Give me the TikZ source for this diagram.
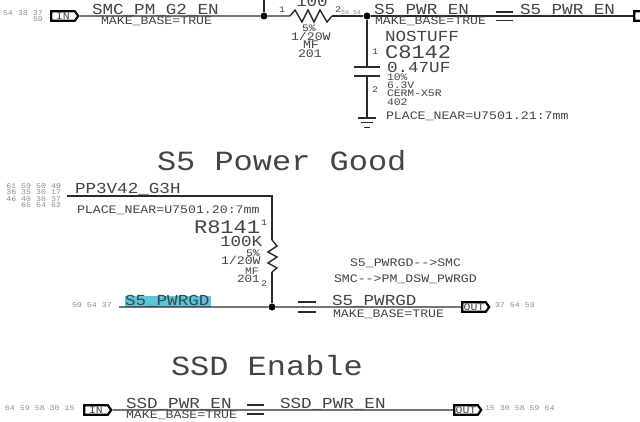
\documentclass[tikz,border=0pt]{standalone}
\usepackage{fontspec}
\usetikzlibrary{shapes.symbols}
\newfontfamily\wf[FakeStretch=1.15]{Liberation Mono}
\newcommand{\fz}[1]{\wf\fontsize{#1}{#1}\selectfont}
\definecolor{ink}{HTML}{444444}
\definecolor{wirec}{HTML}{2A2A2A}
\definecolor{pinc}{HTML}{8C8C8C}
\definecolor{hilite}{HTML}{58C6DC}
\tikzset{
  x=1pt,y=-1pt,
  lab/.style={inner sep=0pt,outer sep=0pt,anchor=base west,text=ink},
  title/.style={lab,font=\fz{27.8}},
  net/.style={lab,font=\fz{15.3}},
  ref/.style={lab,font=\fz{19.2}},
  attr/.style={lab,font=\fz{11.5}},
  tiny/.style={lab,font=\fz{9.9}},
  pinnum/.style={lab,font=\fz{8.6}},
  xref/.style={lab,text=pinc,font=\fz{7.2}},
  wire/.style={draw=wirec,line width=1.4pt},
  dot/.style={circle,fill=black,inner sep=0pt,minimum size=7pt},
  tag/.style={signal,signal to=east,signal pointer angle=110,draw=black,line width=2.2pt,fill=white,
    inner sep=0pt,minimum width=27pt,minimum height=9.5pt,text=ink,font=\fz{10}},
}
\begin{document}
\begin{tikzpicture}
\useasboundingbox[fill=white] (0,0) rectangle (640,422);
% --- coordinates
\coordinate (topv) at (264,0);
\coordinate (r1a) at (290,16);
\coordinate (r1b) at (332,16);
\coordinate (capt) at (367,67);
\coordinate (capb) at (367,76);
\coordinate (gnd) at (367,118);
\coordinate (g3h) at (67,196);
\coordinate (g3corner) at (272,196);
\coordinate (r2a) at (272,240);
\coordinate (r2b) at (272,272);
\coordinate (pgstart) at (119,307);
% --- nodes
\node[tag] (in1) at (63,16) {IN};
\node[tag] (out1) at (646,16) {};
\node[tag] (out2) at (474,307) {OUT};
\node[tag] (in3) at (96,410) {IN};
\node[tag] (out3) at (466,410) {OUT};
\node[dot] (j1) at (264,16) {};
\node[dot] (j2) at (367,16) {};
\node[dot] (j3) at (272,307) {};
% --- highlight
\fill[hilite] (125,296) rectangle (211,306.5);
% --- wires
\draw[wire] (in1) -- (j1) -- (r1a);
\draw[wire] (topv) -- (j1);
\draw[wire] (r1a) -- (295,10) -- (302,22) -- (308,10) -- (314,22) -- (320,10) -- (327,22) -- (r1b);
\draw[wire] (r1b) -- (j2) -- (out1);
\draw[wire] (j2) -- (capt);
\draw[wire] (354,67) -- (380,67);
\draw[wire] (354,76) -- (380,76);
\draw[wire] (capb) -- (gnd);
\draw[wire] (358,118) -- (376,118);
\draw[wire,line width=1pt] (361,123) -- (373,123);
\draw[wire,line width=1pt] (364,127.5) -- (370,127.5);
\draw[wire] (g3h) -- (g3corner) -- (r2a);
\draw[wire] (r2a) -- (277,246) -- (268,252) -- (277,257) -- (268,263) -- (277,268) -- (r2b);
\draw[wire] (r2b) -- (j3);
\draw[wire] (pgstart) -- (j3) -- (out2);
\draw[wire] (in3) -- (out3);
% equals signs
\draw[wire] (496,12) -- (513,12) (496,20.5) -- (513,20.5);
\draw[wire] (298,302) -- (316,302) (298,312) -- (316,312);
\draw[wire] (247,405) -- (264,405) (247,414) -- (264,414);
% --- text: top block
\node[xref] (x1) at (3,16) {54 38 37};
\node[xref] (x2) at (33,22) {59};
\node[net] (t1) at (92,15) {SMC\_PM\_G2\_EN};
\node[attr] (t2) at (101,25) {MAKE\_BASE=TRUE};
\node[net] (t3) at (296,7) {100};
\node[pinnum] (t4) at (279,13) {1};
\node[pinnum] (t5) at (335,13) {2};
\node[xref,font=\fz{5.8}] (t6) at (341,15) {59 54};
\node[tiny] (t7) at (302,32) {5\%};
\node[attr] (t8) at (291,41) {1/20W};
\node[attr] (t9) at (303,49) {MF};
\node[attr] (t10) at (298,58) {201};
\node[net] (t11) at (374,15) {S5\_PWR\_EN};
\node[attr] (t12) at (375,25) {MAKE\_BASE=TRUE};
\node[net] (t13) at (520,15) {S5\_PWR\_EN};
\node[net] (t14) at (385,42) {NOSTUFF};
\node[ref] (t15) at (385,59) {C8142};
\node[net] (t16) at (387,73) {0.47UF};
\node[tiny] (t17) at (387,81) {10\%};
\node[tiny] (t18) at (387,89) {6.3V};
\node[tiny] (t19) at (387,97) {CERM-X5R};
\node[tiny] (t20) at (387,106) {402};
\node[pinnum] (t21) at (372,55) {1};
\node[pinnum] (t22) at (372,93) {2};
\node[attr] (t23) at (386,120) {PLACE\_NEAR=U7501.21:7mm};
% --- titles
\node[title] (h1) at (157,171) {S5 Power Good};
\node[title] (h2) at (171,375) {SSD Enable};
% --- middle block
\node[xref,anchor=base east] (x3) at (61,189) {61 59 50 49};
\node[xref,anchor=base east] (x4) at (61,195) {36 35 30 17};
\node[xref,anchor=base east] (x5) at (61,202) {46 40 38 37};
\node[xref,anchor=base east] (x6) at (61,208) {65 64 62};
\node[net] (m1) at (75,194) {PP3V42\_G3H};
\node[attr] (m2) at (77,214) {PLACE\_NEAR=U7501.20:7mm};
\node[ref] (m3) at (194,234) {R8141};
\node[pinnum] (m4) at (261,226) {1};
\node[net] (m5) at (220,247) {100K};
\node[tiny] (m6) at (246,256) {5\%};
\node[attr] (m7) at (221,265) {1/20W};
\node[tiny] (m8) at (245,274) {MF};
\node[tiny,font=\fz{11}] (m9) at (237,282) {201};
\node[pinnum] (m10) at (261,287) {2};
\node[xref] (x7) at (72,307) {59 54 37};
\node[net] (m11) at (125,305.5) {S5\_PWRGD};
\node[net] (m12) at (332,305.5) {S5\_PWRGD};
\node[attr] (m13) at (333,317) {MAKE\_BASE=TRUE};
\node[attr] (m14) at (350,266) {S5\_PWRGD-->SMC};
\node[attr] (m15) at (334,282) {SMC-->PM\_DSW\_PWRGD};
\node[xref] (x8) at (495,307) {37 54 59};
% --- bottom block
\node[xref] (x9) at (5,410) {64 59 58 30 15};
\node[net] (b1) at (126,408) {SSD\_PWR\_EN};
\node[attr] (b2) at (126,418) {MAKE\_BASE=TRUE};
\node[net] (b3) at (280,408) {SSD\_PWR\_EN};
\node[xref] (x10) at (485,410) {15 30 58 59 64};
\end{tikzpicture}
\end{document}
